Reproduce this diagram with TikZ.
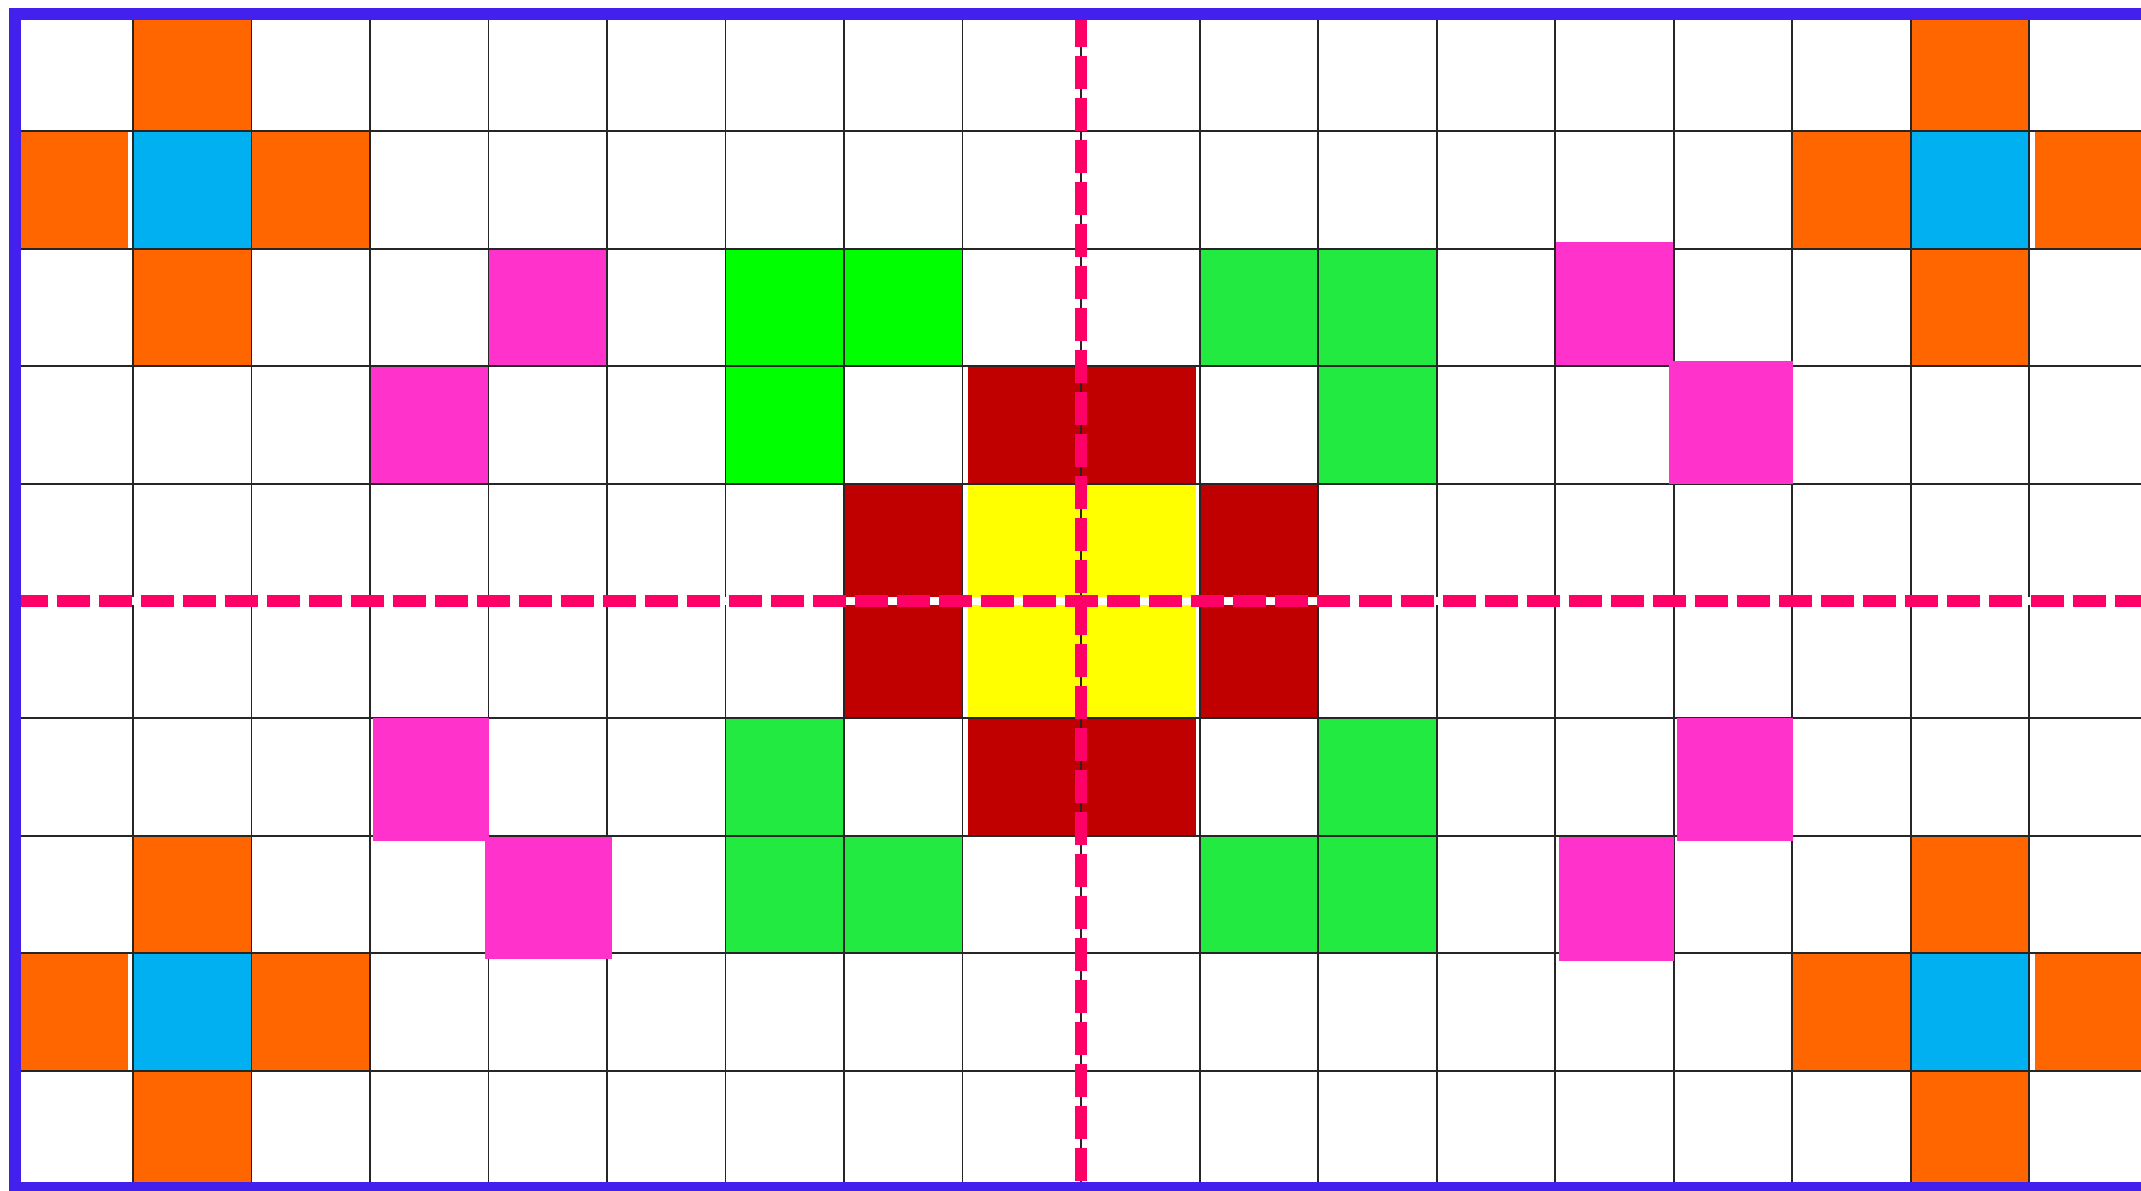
\documentclass[tikz,border=0pt]{standalone}
\usepackage{xcolor}
\definecolor{crossorange}{HTML}{FF6600}
\definecolor{crossblue}{HTML}{00B0F0}
\definecolor{spotpink}{HTML}{FF33CC}
\definecolor{limegreen}{HTML}{00FF00}
\definecolor{leafgreen}{HTML}{22EA40}
\definecolor{corered}{HTML}{C00000}
\definecolor{coreyellow}{HTML}{FFFF00}
\definecolor{axisred}{HTML}{FF0066}
\definecolor{framepurple}{HTML}{4420EC}

\begin{document}
\begin{tikzpicture}[
    x=1.185cm, y=-1.174cm,
    gridline/.style={black!85, line width=0.55pt},
    axisline/.style={axisred, line width=0.12cm, dash pattern=on 0.33cm off 0.09cm},
    frameline/.style={framepurple, line width=0.12cm}
]

\useasboundingbox (-0.1224,-0.1193) rectangle (17.945,10.017);
\fill[white] (-0.1224,-0.1193) rectangle (17.945,10.017);

% crosses in the four corners
\foreach \cx/\cy in {1/1, 16/1, 1/8, 16/8} {
    \fill[crossblue] (\cx,\cy) rectangle +(1,1);
    \fill[crossorange] (\cx,\cy-1) rectangle +(1,1);
    \fill[crossorange] (\cx,\cy+1) rectangle +(1,1);
}
\foreach \cy in {1, 8} {
    \fill[crossorange] (0,\cy) rectangle (0.96,\cy+1);
    \fill[crossorange] (2,\cy) rectangle (3,\cy+1);
    \fill[crossorange] (15,\cy) rectangle (16,\cy+1);
    \fill[crossorange] (17.05,\cy) rectangle (18,\cy+1);
}

% pink spots on the grid
\fill[spotpink] (4,2) rectangle +(1,1);
\fill[spotpink] (3,3) rectangle +(1,1);

% green corners round the core
\foreach \gx/\gy in {6/2, 7/2, 6/3}
    \fill[limegreen] (\gx,\gy) rectangle +(1,1);
\foreach \gx/\gy in {10/2, 11/2, 11/3, 6/6, 6/7, 7/7, 11/6, 10/7, 11/7}
    \fill[leafgreen] (\gx,\gy) rectangle +(1,1);

% core
\fill[corered] (8.044,3) rectangle (9.968,4);
\fill[corered] (8.044,6) rectangle (9.968,7);
\fill[corered] (7,4) rectangle (8,6);
\fill[corered] (10,4) rectangle (11,6);
\fill[coreyellow] (8.044,4) rectangle (9.968,6);

% grid
\foreach \i in {1,...,17}
    \draw[gridline] (\i,0) -- (\i,10);
\foreach \j in {1,...,9}
    \draw[gridline] (0,\j) -- (18,\j);

% pink spots off the grid
\fill[spotpink] (13.008,1.942) rectangle (13.996,2.990);
\fill[spotpink] (13.962,2.956) rectangle (15.008,4.003);
\fill[spotpink] (3.023,5.997) rectangle (4.004,7.044);
\fill[spotpink] (3.970,7.010) rectangle (5.040,8.049);
\fill[spotpink] (13.034,7.010) rectangle (14.004,8.064);
\fill[spotpink] (14.027,5.997) rectangle (15.008,7.044);

% axes
\draw[white, line width=0.08cm] (0,5) -- (18,5);
\draw[axisline] (0,5) -- (18,5);
\draw[axisline] (9,0) -- (9,10);

\draw[frameline] (0,0) rectangle (18,10);

\end{tikzpicture}
\end{document}
